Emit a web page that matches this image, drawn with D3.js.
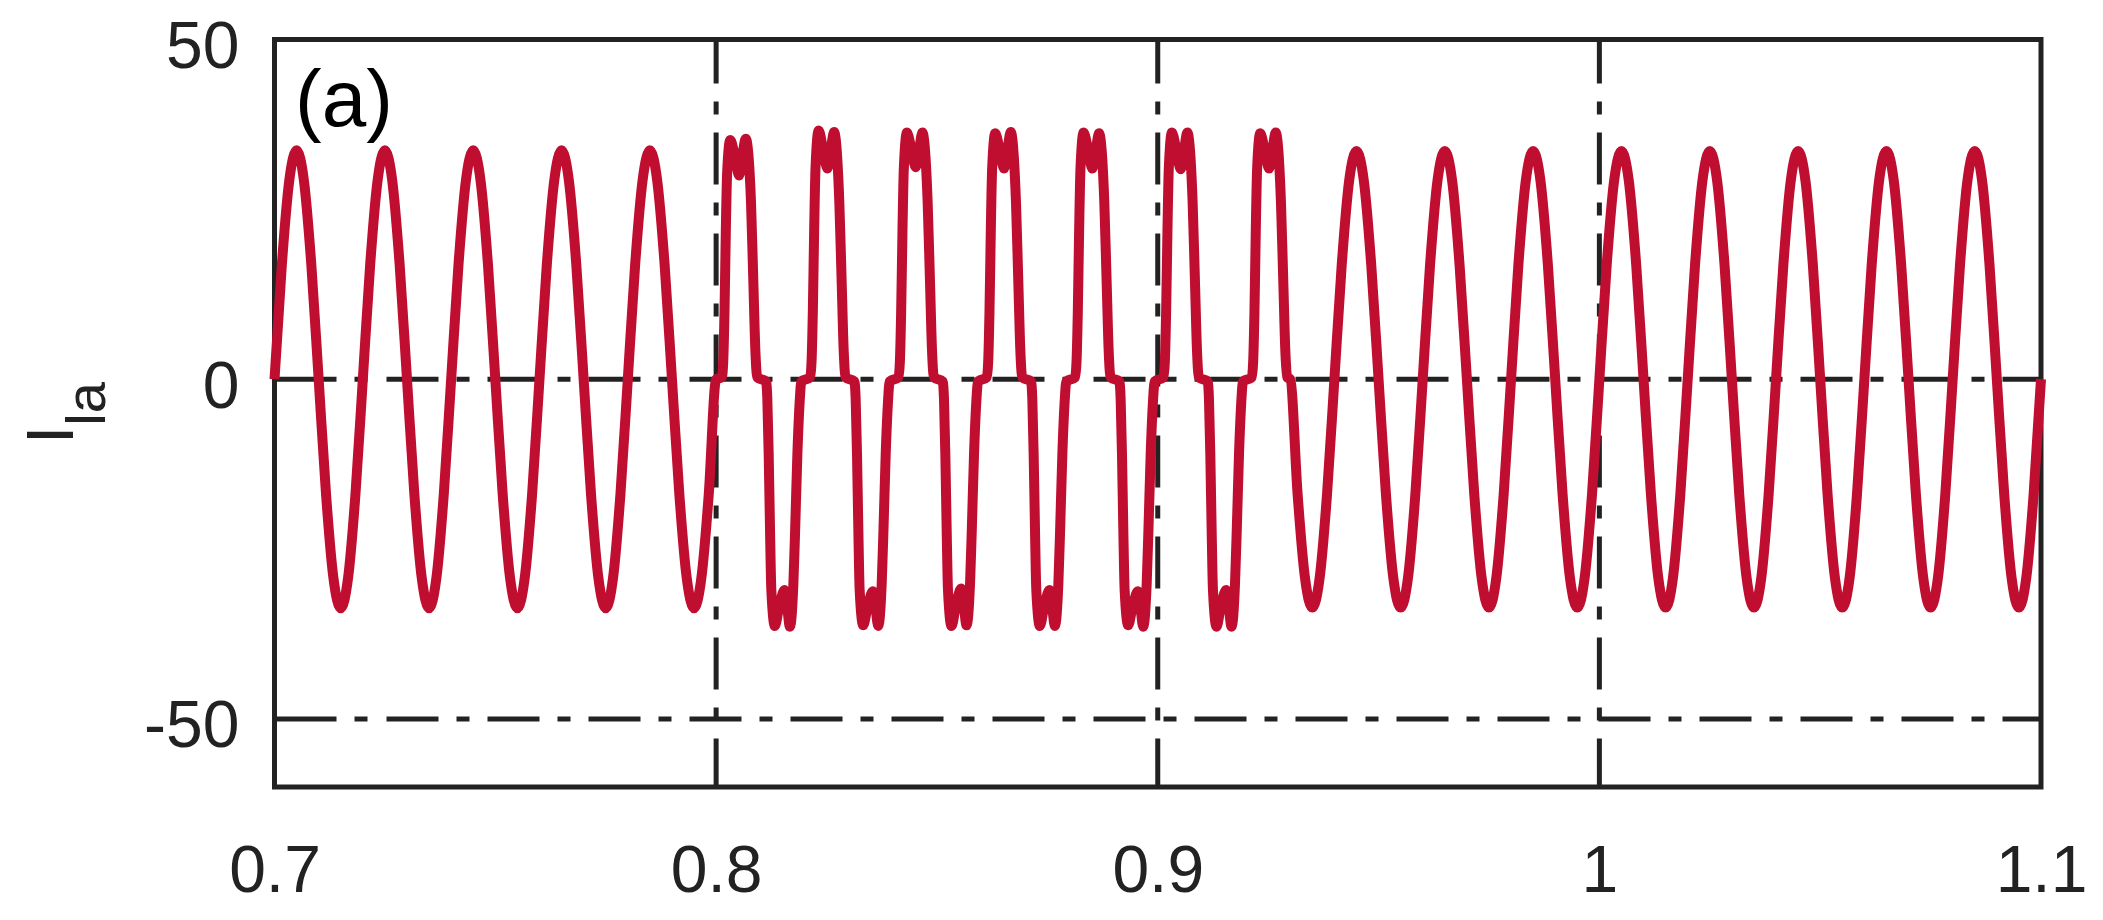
<!DOCTYPE html>
<html>
<head>
<meta charset="utf-8">
<script src="https://cdn.jsdelivr.net/npm/d3@7"></script>
<style>
  body { margin: 0; background: #fff; }
</style>
</head>
<body>
<svg id="chart" width="2103" height="920"></svg>
<script>
// axis ticks
const xTicks = [0.7, 0.8, 0.9, 1.0, 1.1]
const xTickLabels = ["0.7", "0.8", "0.9", "1", "1.1"]
const yTicks = [50, 0, -50]
const yTickLabels = ["50", "0", "-50"]
const xGrid = [0.8, 0.9, 1.0]
const yGrid = [0, -50]

// sinusoidal part before 0.8 s, one sample every 1/12 of a 50 Hz cycle
const sineBeforeStart = 0.7
const sineAfterStart = 0.93
const sampleStep = 0.02 / 12
const sineBefore = [
  0, 16.9, 29.2, 33.7, 29.2, 16.9, 0, -16.9, -29.2, -33.7, -29.2, -16.9,
  0, 16.9, 29.2, 33.7, 29.2, 16.9, 0, -16.9, -29.2, -33.7, -29.2, -16.9,
  0, 16.9, 29.2, 33.7, 29.2, 16.9, 0, -16.9, -29.2, -33.7, -29.2, -16.9,
  0, 16.9, 29.2, 33.7, 29.2, 16.9, 0, -16.9, -29.2, -33.7, -29.2, -16.9,
  0, 16.9, 29.2, 33.7, 29.2, 16.9, 0, -16.9, -29.2, -33.7, -29.2, -16.9,
  0
]

// quasi-square current between 0.8 s and 0.93 s  [t, I]
const pulseSection = [
  [0.8013, 0.3], [0.8016, 2.5], [0.8019, 10], [0.8022, 22], [0.8025, 30.5], [0.8032, 35.2], [0.8042, 32.9], [0.8052, 30.0], [0.8060, 33.2], [0.8067, 35.4], [0.8074, 32.3], [0.8079, 26], [0.8084, 15], [0.8089, 4], [0.8093, 0.3],
  [0.8113, -0.3], [0.8116, -3], [0.8119, -11], [0.8122, -22], [0.8125, -31], [0.8133, -36.3], [0.8143, -33.4], [0.8155, -31.0], [0.8161, -33.5], [0.8167, -36.4], [0.8175, -30], [0.8179, -22], [0.8184, -11], [0.8189, -3.5], [0.8193, -0.3],
  [0.8213, 0.3], [0.8216, 2.5], [0.8219, 10], [0.8222, 22], [0.8225, 31], [0.8232, 36.6], [0.8242, 33.9], [0.8252, 31.0], [0.8260, 33.9], [0.8267, 36.4], [0.8274, 32.8], [0.8279, 26], [0.8284, 15], [0.8289, 4], [0.8293, 0.3],
  [0.8313, -0.3], [0.8316, -3], [0.8319, -11], [0.8322, -22], [0.8325, -31], [0.8333, -36.2], [0.8343, -33.5], [0.8355, -31.2], [0.8361, -33.6], [0.8367, -36.3], [0.8375, -30], [0.8379, -22], [0.8384, -11], [0.8389, -3.5], [0.8393, -0.3],
  [0.8413, 0.3], [0.8416, 2.5], [0.8419, 10], [0.8422, 22], [0.8425, 31], [0.8432, 36.3], [0.8442, 33.9], [0.8452, 31.2], [0.8460, 33.9], [0.8467, 36.3], [0.8474, 32.8], [0.8479, 26], [0.8484, 15], [0.8489, 4], [0.8493, 0.3],
  [0.8513, -0.3], [0.8516, -3], [0.8519, -11], [0.8522, -22], [0.8525, -31], [0.8533, -36.3], [0.8543, -33.3], [0.8555, -30.8], [0.8561, -33.4], [0.8567, -36.2], [0.8575, -30], [0.8579, -22], [0.8584, -11], [0.8589, -3.5], [0.8593, -0.3],
  [0.8613, 0.3], [0.8616, 2.5], [0.8619, 10], [0.8622, 22], [0.8625, 31], [0.8632, 36.2], [0.8642, 33.8], [0.8652, 31.0], [0.8660, 33.9], [0.8667, 36.4], [0.8674, 32.8], [0.8679, 26], [0.8684, 15], [0.8689, 4], [0.8693, 0.3],
  [0.8713, -0.3], [0.8716, -3], [0.8719, -11], [0.8722, -22], [0.8725, -31], [0.8733, -36.3], [0.8743, -33.4], [0.8755, -31.0], [0.8761, -33.5], [0.8767, -36.3], [0.8775, -30], [0.8779, -22], [0.8784, -11], [0.8789, -3.5], [0.8793, -0.3],
  [0.8813, 0.3], [0.8816, 2.5], [0.8819, 10], [0.8822, 22], [0.8825, 31], [0.8832, 36.3], [0.8842, 33.9], [0.8852, 31.0], [0.8860, 33.8], [0.8867, 36.2], [0.8874, 32.8], [0.8879, 26], [0.8884, 15], [0.8889, 4], [0.8893, 0.3],
  [0.8913, -0.3], [0.8916, -3], [0.8919, -11], [0.8922, -22], [0.8925, -31], [0.8933, -36.2], [0.8943, -33.5], [0.8955, -31.2], [0.8961, -33.6], [0.8967, -36.4], [0.8975, -30], [0.8979, -22], [0.8984, -11], [0.8989, -3.5], [0.8993, -0.3],
  [0.9013, 0.3], [0.9016, 2.5], [0.9019, 10], [0.9022, 22], [0.9025, 31], [0.9032, 36.3], [0.9042, 33.8], [0.9052, 30.9], [0.9060, 33.9], [0.9067, 36.3], [0.9074, 32.8], [0.9079, 26], [0.9084, 15], [0.9089, 4], [0.9093, 0.3],
  [0.9113, -0.3], [0.9116, -3], [0.9119, -11], [0.9122, -22], [0.9125, -31], [0.9133, -36.4], [0.9143, -33.4], [0.9155, -31.0], [0.9161, -33.6], [0.9167, -36.4], [0.9175, -30], [0.9179, -22], [0.9184, -11], [0.9189, -3.5], [0.9193, -0.3],
  [0.9213, 0.3], [0.9216, 2.5], [0.9219, 10], [0.9222, 22], [0.9225, 31], [0.9232, 36.2], [0.9242, 33.8], [0.9252, 31.0], [0.9260, 33.9], [0.9267, 36.3], [0.9274, 32.8], [0.9279, 26], [0.9284, 15], [0.9289, 4], [0.9293, 0.3]
]

// sinusoidal part from 0.93 s to 1.1 s
const sineAfter = [
  0, -16.9, -29.2, -33.6, -29.2, -16.9, 0, 16.9, 29.2, 33.6, 29.2, 16.9,
  0, -16.9, -29.2, -33.6, -29.2, -16.9, 0, 16.9, 29.2, 33.6, 29.2, 16.9,
  0, -16.9, -29.2, -33.6, -29.2, -16.9, 0, 16.9, 29.2, 33.6, 29.2, 16.9,
  0, -16.9, -29.2, -33.6, -29.2, -16.9, 0, 16.9, 29.2, 33.6, 29.2, 16.9,
  0, -16.9, -29.2, -33.6, -29.2, -16.9, 0, 16.9, 29.2, 33.6, 29.2, 16.9,
  0, -16.9, -29.2, -33.6, -29.2, -16.9, 0, 16.9, 29.2, 33.6, 29.2, 16.9,
  0, -16.9, -29.2, -33.6, -29.2, -16.9, 0, 16.9, 29.2, 33.6, 29.2, 16.9,
  0, -16.9, -29.2, -33.6, -29.2, -16.9, 0, 16.9, 29.2, 33.6, 29.2, 16.9,
  0, -16.9, -29.2, -33.6, -29.2, -16.9, 0
]

window.onload = () => {
  draw_chart()
}

function draw_chart() {
  var svg = d3.select("#chart")
  var ink = "#222222"
  var red = "#bf0e2f"
  var font = "'Liberation Sans', Arial, Helvetica, sans-serif"

  var left = 274.5, right = 2041, top = 39.5, bottom = 787

  var x = d3.scaleLinear().domain([0.7, 1.1]).range([left, right])
  var y = d3.scaleLinear().domain([-60, 50]).range([bottom, top])

  // the whole trace
  var data = sineBefore.map((v, i) => [sineBeforeStart + i * sampleStep, v])
    .concat(pulseSection)
    .concat(sineAfter.map((v, i) => [sineAfterStart + i * sampleStep, v]))

  // dash-dot grid
  svg.append("g")
    .selectAll("line")
    .data(xGrid)
    .enter()
    .append("line")
      .attr("x1", d => x(d)).attr("x2", d => x(d))
      .attr("y1", y(50)).attr("y2", y(-60))
      .attr("stroke", ink)
      .attr("stroke-width", 5)
      .attr("stroke-dasharray", "52,18,13,18")
      .attr("stroke-dashoffset", 8)

  var hDash = [62, 18, 13, 19]
  d3.range(20).forEach(() => hDash.push(52, 18, 13, 18))
  svg.append("g")
    .selectAll("line")
    .data(yGrid)
    .enter()
    .append("line")
      .attr("x1", x(0.7)).attr("x2", x(1.1))
      .attr("y1", d => y(d)).attr("y2", d => y(d))
      .attr("stroke", ink)
      .attr("stroke-width", 5)
      .attr("stroke-dasharray", hDash.join(","))

  // box
  svg.append("rect")
    .attr("x", left).attr("y", top)
    .attr("width", right - left).attr("height", bottom - top)
    .attr("fill", "none")
    .attr("stroke", ink)
    .attr("stroke-width", 5)

  // axes (labels only, the box is drawn above)
  var xAxis = svg.append("g")
    .attr("transform", "translate(0," + bottom + ")")
    .call(d3.axisBottom(x)
      .tickValues(xTicks)
      .tickSize(0)
      .tickPadding(58)
      .tickFormat((d, i) => xTickLabels[i]))
  var yAxis = svg.append("g")
    .attr("transform", "translate(" + left + ",0)")
    .call(d3.axisLeft(y)
      .tickValues(yTicks)
      .tickSize(0)
      .tickPadding(35)
      .tickFormat((d, i) => yTickLabels[i]))
  yAxis.selectAll("text").attr("dy", "0.42em")

  ;[xAxis, yAxis].forEach(a => {
    a.select(".domain").remove()
    a.selectAll("text")
      .style("font-family", font)
      .style("font-size", "66px")
      .style("fill", ink)
  })

  // current trace
  svg.append("path")
    .datum(data)
    .attr("fill", "none")
    .attr("stroke", red)
    .attr("stroke-width", 10)
    .attr("stroke-linejoin", "round")
    .attr("d", d3.line()
      .curve(d3.curveMonotoneX)
      .x(d => x(d[0]))
      .y(d => y(d[1])))

  // panel tag
  svg.append("text")
    .attr("x", 295)
    .attr("y", 126)
    .style("font-family", font)
    .style("font-size", "80px")
    .style("fill", "#000")
    .text("(a)")

  // y label I_la
  var yl = svg.append("text")
    .attr("transform", "translate(73," + ((top + bottom) / 2) + ") rotate(-90)")
    .attr("text-anchor", "middle")
    .style("font-family", font)
    .style("fill", ink)
  yl.append("tspan").style("font-size", "67px").text("I")
  yl.append("tspan").attr("dy", 32).style("font-size", "56px").text("la")
}
</script>
</body>
</html>
